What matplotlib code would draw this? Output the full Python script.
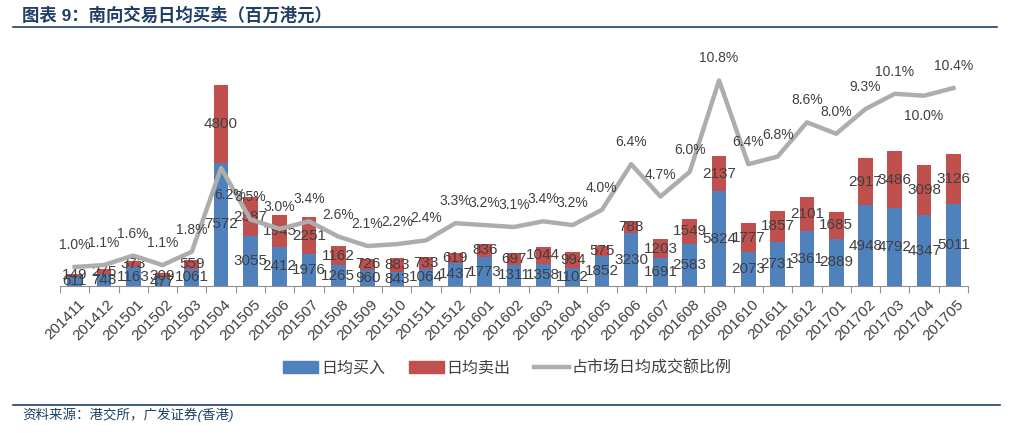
import matplotlib.pyplot as plt
from matplotlib.lines import Line2D

plt.rcParams['font.family'] = ['Liberation Sans', 'Noto Sans CJK SC', 'DejaVu Sans']

months = ["201411", "201412", "201501", "201502", "201503", "201504", "201505",
          "201506", "201507", "201508", "201509", "201510", "201511", "201512",
          "201601", "201602", "201603", "201604", "201605", "201606", "201607",
          "201608", "201609", "201610", "201611", "201612", "201701", "201702",
          "201703", "201704", "201705"]
buy = [611, 748, 1163, 477, 1061, 7572, 3055, 2412, 1976, 1265, 960, 843, 1064,
       1437, 1773, 1311, 1358, 1102, 1852, 3230, 1691, 2583, 5824, 2073, 2731,
       3361, 2889, 4948, 4792, 4347, 5011]
sell = [149, 275, 373, 309, 559, 4800, 2387, 1945, 2251, 1162, 726, 883, 733,
        619, 836, 697, 1044, 994, 575, 788, 1203, 1549, 2137, 1777, 1857, 2101,
        1685, 2917, 3486, 3098, 3126]
ratio = [1.0, 1.1, 1.6, 1.1, 1.8, 6.2, 3.5, 3.0, 3.4, 2.6, 2.1, 2.2, 2.4, 3.3,
         3.2, 3.1, 3.4, 3.2, 4.0, 6.4, 4.7, 6.0, 10.8, 6.4, 6.8, 8.6, 8.0, 9.3,
         10.1, 10.0, 10.4]

BLUE = "#4F81BD"
RED = "#C0504D"
GRAY = "#ADADAD"
NAVY = "#1F3F66"
TXT = "#404040"

fig = plt.figure(figsize=(10.15, 4.33), dpi=100)
ax = fig.add_axes([0.0591, 0.3395, 0.8946, 0.545])
x = list(range(len(months)))

ax.bar(x, buy, width=0.5, color=BLUE, zorder=2)
ax.bar(x, sell, width=0.5, bottom=buy, color=RED, zorder=2)
ax.set_ylim(0, 14500)
ax.set_xlim(-0.5, len(months) - 0.5)

# value labels centred in each segment
for i in x:
    ax.text(i, buy[i] / 2, str(buy[i]), ha='center', va='center',
            fontsize=11, color=TXT, zorder=5)
    ax.text(i, buy[i] + sell[i] / 2, str(sell[i]), ha='center', va='center',
            fontsize=11, color=TXT, zorder=5)

for s in ['top', 'right', 'left']:
    ax.spines[s].set_visible(False)
ax.spines['bottom'].set_color('#909090')
ax.set_yticks([])
ax.set_xticks([i - 0.5 for i in range(len(months) + 1)])
ax.set_xticklabels([])
ax.tick_params(axis='x', direction='out', length=5, color='#909090')
for i, m in enumerate(months):
    ax.text(i + 0.1, -700, m, rotation=45, ha='right', va='top',
            rotation_mode='anchor', fontsize=11, color=TXT)

ax2 = ax.twinx()
ax2.plot(x, ratio, color=GRAY, lw=3.2, zorder=3)
ax2.set_ylim(0, 12.4)
ax2.set_yticks([])
for s in ['top', 'right', 'left', 'bottom']:
    ax2.spines[s].set_visible(False)

offsets = {5: (9, -27), 29: (0, -20)}
for i in x:
    dx, dy = offsets.get(i, (0, 22))
    ax2.annotate(f"{ratio[i]:.1f}%", (i, ratio[i]), xytext=(dx, dy),
                 textcoords='offset pixels', ha='center', va='center',
                 fontsize=10, color=TXT, zorder=6)

handles = [plt.Rectangle((0, 0), 1, 1, color=BLUE),
           plt.Rectangle((0, 0), 1, 1, color=RED),
           Line2D([0], [0], color=GRAY, lw=3.2)]
fig.legend(handles, ["日均买入", "日均卖出", "占市场日均成交额比例"],
           loc='center', bbox_to_anchor=(0.5, 1 - 368 / 433), ncol=3,
           frameon=False, fontsize=11.5, handlelength=2.2, handleheight=0.8,
           columnspacing=1.5, handletextpad=0.15, labelcolor=TXT)

fig.text(22 / 1015, 1 - 15 / 433, "图表 9：南向交易日均买卖（百万港元）",
         fontsize=12.5, fontweight='bold', color=NAVY, va='center', ha='left')
fig.add_artist(Line2D([13 / 1015, 997 / 1015], [1 - 27 / 433, 1 - 27 / 433],
                      color=NAVY, lw=1.2))
fig.add_artist(Line2D([13 / 1015, 1000 / 1015], [1 - 405 / 433, 1 - 405 / 433],
                      color=NAVY, lw=1.2))
fig.text(22 / 1015, 1 - 415 / 433, "资料来源：港交所，广发证券(香港)",
         fontsize=9.7, fontstyle='italic', color=NAVY, va='center', ha='left')

fig.savefig("out.png", dpi=100)
